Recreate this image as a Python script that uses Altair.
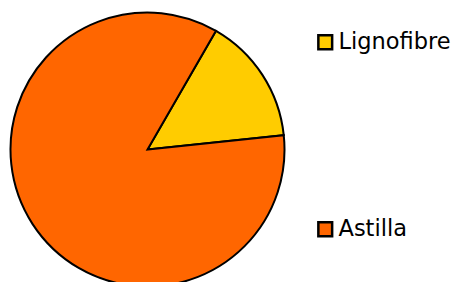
import altair as alt
import pandas as pd

categories = ["Lignofibre", "Astilla"]
values = [15, 85]
colors = ["#FFCC00", "#FF6600"]

df = pd.DataFrame({"category": categories, "value": values, "order": [0, 1]})

start = 0.5236
pie = alt.Chart(df).mark_arc(
    outerRadius=137, stroke="black", strokeWidth=2
).encode(
    theta=alt.Theta("value:Q", stack=True,
                    scale=alt.Scale(range=[start, start + 6.283185])),
    order=alt.Order("order:Q"),
    color=alt.Color(
        "category:N",
        sort=categories,
        scale=alt.Scale(domain=categories, range=colors),
        legend=alt.Legend(
            title=None,
            orient="none",
            legendX=306,
            legendY=23,
            symbolType="square",
            symbolSize=190,
            symbolStrokeColor="black",
            symbolStrokeWidth=2.5,
            labelFont="DejaVu Sans",
            labelFontSize=22.5,
            labelColor="black",
            labelOffset=2,
            labelLimit=200,
            rowPadding=162,
            padding=0,
        ),
    ),
    x=alt.value(139.5),
    y=alt.value(141.5),
).properties(
    width=446, height=274,
    autosize=alt.AutoSizeParams(type="none"),
    padding=0,
).configure_view(stroke=None)

pie.save("out.html", embed_options={"renderer": "svg", "actions": False})
